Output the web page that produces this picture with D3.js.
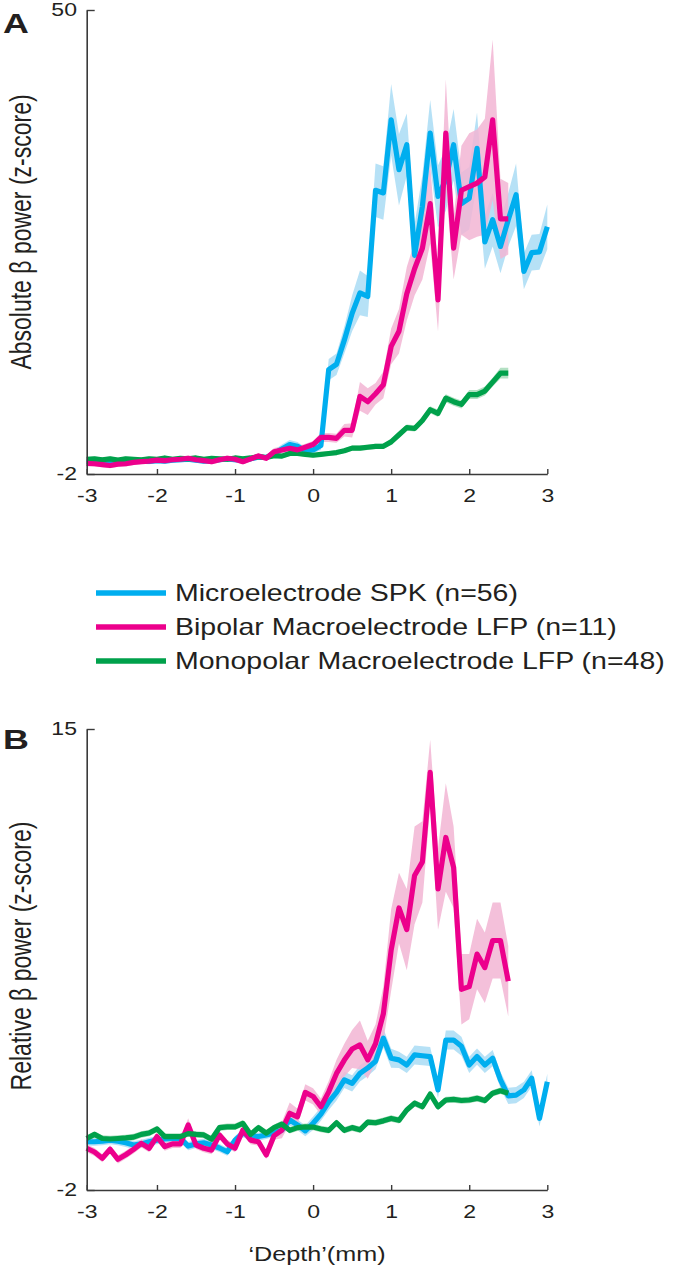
<!DOCTYPE html>
<html><head><meta charset="utf-8">
<script src="https://cdn.jsdelivr.net/npm/d3@7"></script>
<style>
body{margin:0;background:#fff}
text{font-family:Arial,"Liberation Sans",Helvetica,sans-serif;fill:#231f20}
</style>
</head><body>
<svg id="chart" width="679" height="1271"></svg>
<script>
// ---------- data ----------
const depthFull = [-2.9,-2.8,-2.7,-2.6,-2.5,-2.4,-2.3,-2.2,-2.1,-2.0,-1.9,-1.8,-1.7,-1.6,-1.5,-1.4,-1.3,-1.2,-1.1,-1.0,-0.9,-0.8,-0.7,-0.6,-0.5,-0.4,-0.3,-0.2,-0.1,0.0,
  0.1,0.2,0.3,0.4,0.5,0.6,0.7,0.8,0.9,1.0,1.1,1.2,1.3,1.4,1.5,1.6,1.7,1.8,1.9,2.0,2.1,2.2,2.3,2.4,2.5,2.6,2.7,2.8,2.9,3.0];
const depthShort = [-2.9,-2.8,-2.7,-2.6,-2.5,-2.4,-2.3,-2.2,-2.1,-2.0,-1.9,-1.8,-1.7,-1.6,-1.5,-1.4,-1.3,-1.2,-1.1,-1.0,-0.9,-0.8,-0.7,-0.6,-0.5,-0.4,-0.3,-0.2,-0.1,0.0,
  0.1,0.2,0.3,0.4,0.5,0.6,0.7,0.8,0.9,1.0,1.1,1.2,1.3,1.4,1.5,1.6,1.7,1.8,1.9,2.0,2.1,2.2,2.3,2.4,2.5];

// Panel A: absolute beta power
const spkAbs = [-0.6,-0.65,-0.7,-0.8,-0.75,-0.7,-0.6,-0.55,-0.6,-0.5,-0.55,-0.45,-0.4,-0.35,-0.45,-0.55,-0.5,-0.4,-0.3,-0.4,-0.45,-0.3,-0.1,-0.15,0.3,0.8,1.3,1.1,0.6,0.7,
  1.2,9.7,10.3,13.0,16.0,18.3,17.9,29.8,29.5,37.7,32.1,34.9,22.5,28.0,36.2,29.1,31.0,34.9,28.3,28.9,34.5,24.0,26.5,23.5,26.5,29.3,20.7,22.8,22.9,25.7];
const spkAbsErr = [0.3,0.3,0.3,0.3,0.3,0.3,0.3,0.3,0.3,0.3,0.3,0.3,0.3,0.3,0.3,0.3,0.3,0.3,0.3,0.3,0.3,0.3,0.3,0.3,0.4,0.5,0.5,0.5,0.4,0.4,
  0.5,1.2,1.2,1.5,2.0,2.5,2.3,3.0,3.0,4.0,4.0,3.5,3.5,3.5,3.7,3.5,3.5,4.0,3.5,3.5,4.0,3.0,3.0,3.0,3.0,3.5,2.0,2.0,2.0,2.5];
const bipAbs = [-0.8,-0.85,-0.95,-1.05,-0.9,-0.85,-0.7,-0.62,-0.55,-0.45,-0.5,-0.4,-0.35,-0.24,-0.4,-0.5,-0.62,-0.4,-0.24,-0.35,-0.62,-0.3,0.02,-0.24,0.5,0.69,0.88,0.7,1.0,1.3,
  2.1,2.1,2.0,2.9,2.9,6.7,6.1,7.0,8.0,12.3,14.0,18.2,21.0,23.3,28.3,17.5,36.2,23.3,29.8,30.2,30.6,31.3,37.7,26.6,26.6];
const bipAbsErr = [0.3,0.3,0.3,0.3,0.3,0.3,0.3,0.3,0.3,0.3,0.3,0.3,0.3,0.3,0.3,0.3,0.3,0.3,0.3,0.3,0.3,0.3,0.3,0.3,0.4,0.4,0.4,0.4,0.4,0.4,
  0.5,0.5,0.5,0.7,0.8,1.6,1.5,1.2,1.5,2.0,2.5,3.0,3.0,3.5,4.5,3.5,6.0,3.5,5.0,6.0,6.0,6.5,9.0,4.5,4.0];
const monoAbs = [-0.35,-0.3,-0.4,-0.3,-0.45,-0.3,-0.35,-0.4,-0.3,-0.35,-0.2,-0.35,-0.25,-0.3,-0.2,-0.35,-0.25,-0.3,-0.35,-0.2,-0.3,-0.2,-0.05,-0.15,0.05,0.0,0.3,0.3,0.2,0.1,
  0.2,0.3,0.4,0.6,0.9,0.9,1.0,1.1,1.1,1.6,2.4,3.2,3.1,4.0,5.2,4.8,6.5,6.1,5.8,6.9,6.9,7.3,8.3,9.3,9.3];
const monoAbsErr = [0.25,0.25,0.25,0.25,0.25,0.25,0.25,0.25,0.25,0.25,0.25,0.25,0.25,0.25,0.25,0.25,0.25,0.25,0.25,0.25,0.25,0.25,0.25,0.25,0.25,0.25,0.25,0.25,0.25,0.25,
  0.25,0.25,0.25,0.25,0.3,0.3,0.3,0.3,0.3,0.3,0.35,0.35,0.35,0.4,0.4,0.4,0.45,0.45,0.45,0.5,0.5,0.5,0.5,0.6,0.6];

// Panel B: relative beta power
const spkRel = [-0.22,-0.22,-0.2,-0.16,-0.2,-0.26,-0.34,-0.3,-0.22,-0.16,-0.12,-0.1,-0.09,-0.38,-0.3,-0.26,-0.34,-0.45,-0.59,-0.16,0.09,0.0,-0.03,0.03,0.1,0.21,0.58,0.4,0.18,0.46,
  0.8,1.25,1.6,2.06,1.93,2.3,2.5,2.75,3.6,2.86,2.8,2.61,2.98,2.95,2.92,1.69,3.53,3.53,3.3,2.61,2.92,2.61,2.86,2.06,1.47,1.5,1.69,2.12,0.64,1.99];
const spkRelErr = [0.15,0.15,0.15,0.15,0.15,0.15,0.15,0.15,0.15,0.15,0.15,0.15,0.15,0.15,0.15,0.15,0.15,0.15,0.15,0.15,0.15,0.15,0.15,0.15,0.15,0.2,0.2,0.2,0.2,0.25,
  0.25,0.3,0.3,0.3,0.3,0.3,0.3,0.3,0.35,0.35,0.3,0.3,0.35,0.35,0.35,0.3,0.35,0.35,0.35,0.3,0.3,0.3,0.3,0.3,0.3,0.3,0.3,0.3,0.3,0.3];
const bipRel = [-0.46,-0.6,-0.83,-0.5,-0.87,-0.7,-0.5,-0.28,-0.46,-0.03,-0.4,-0.3,-0.3,0.4,-0.34,-0.46,-0.53,0.03,-0.3,-0.46,0.21,-0.16,-0.22,-0.71,0.0,0.21,0.83,0.7,1.6,1.45,
  1.07,1.62,2.3,2.79,3.2,3.35,2.8,3.4,4.5,6.85,8.4,7.6,9.6,10.1,13.4,9.1,11.0,9.9,5.4,5.5,6.7,6.2,7.2,7.2,5.7];
const bipRelErr = [0.15,0.15,0.15,0.15,0.15,0.15,0.15,0.15,0.15,0.15,0.15,0.15,0.15,0.25,0.15,0.15,0.15,0.15,0.15,0.15,0.15,0.15,0.15,0.15,0.15,0.3,0.4,0.3,0.3,0.3,
  0.3,0.4,0.5,0.6,0.7,0.9,0.7,0.7,1.0,1.5,1.3,1.5,1.8,1.5,1.2,1.5,2.0,1.5,1.3,1.2,1.3,1.3,1.4,1.4,1.3];
const monoRel = [-0.1,0.05,-0.1,-0.12,-0.1,-0.08,-0.05,0.05,0.1,0.25,-0.03,-0.03,-0.03,0.08,0.05,0.03,-0.13,0.3,0.33,0.33,0.46,0.05,0.3,0.1,0.3,0.43,0.2,0.3,0.33,0.32,
  0.25,0.2,0.48,0.2,0.3,0.22,0.5,0.48,0.55,0.64,0.57,0.95,1.2,1.07,1.54,1.07,1.32,1.34,1.3,1.32,1.38,1.3,1.57,1.66,1.57];
const monoRelErr = [0.12,0.12,0.12,0.12,0.12,0.12,0.12,0.12,0.12,0.12,0.12,0.12,0.12,0.12,0.12,0.12,0.12,0.12,0.12,0.12,0.12,0.12,0.12,0.12,0.12,0.12,0.12,0.12,0.12,0.12,
  0.12,0.12,0.12,0.12,0.12,0.12,0.12,0.12,0.12,0.12,0.12,0.12,0.12,0.12,0.12,0.12,0.12,0.12,0.12,0.12,0.12,0.12,0.12,0.12,0.12];

const seriesNames = ["Microelectrode SPK (n=56)","Bipolar Macroelectrode LFP (n=11)","Monopolar Macroelectrode LFP (n=48)"];
const xTickValues = [-2.9,-2,-1,0,1,2,3];
const xTickLabels = ["-3","-2","-1","0","1","2","3"];
const yTicksA = [-2,50];
const yTicksB = [-2,15];

// ---------- styling ----------
const lineColors = ["#00aeef","#ec008c","#00a14b"];
const bandColors = ["#a9dcf5","#f2b5d4","#a6dbb8"];
const SX = 1.28; // horizontal text stretch of the original figure

const svg = d3.select("#chart");
const x = d3.scaleLinear().domain([-2.9,3]).range([86.7,547.3]);

function drawPanel(cfg){
  const y = d3.scaleLinear().domain(cfg.yDomain).range(cfg.yRange);
  const g = svg.append("g");
  const series = [
    {depth:depthFull, v:cfg.spk, e:cfg.spkErr, c:0},
    {depth:depthShort, v:cfg.bip, e:cfg.bipErr, c:1},
    {depth:depthShort, v:cfg.mono, e:cfg.monoErr, c:2}
  ];
  const order = cfg.order.map(i=>series[i]);
  order.forEach(s=>{
    const pts = s.depth.map((d,i)=>({d, v:s.v[i], e:s.e[i]}));
    g.append("path").datum(pts)
      .attr("fill", bandColors[s.c]).attr("fill-opacity",0.85)
      .attr("d", d3.area().x(p=>x(p.d)).y0(p=>y(p.v-p.e)).y1(p=>y(p.v+p.e)));
  });
  order.forEach(s=>{
    const pts = s.depth.map((d,i)=>({d, v:s.v[i]}));
    g.append("path").datum(pts)
      .attr("fill","none").attr("stroke", lineColors[s.c]).attr("stroke-width",5.2)
      .attr("stroke-linejoin","round").attr("stroke-linecap","butt")
      .attr("d", d3.line().x(p=>x(p.d)).y(p=>y(p.v)));
  });
  // axes
  const yAxis = g.append("g").attr("transform",`translate(${x.range()[0]},0)`)
    .call(d3.axisLeft(y).tickValues(cfg.yTicks).tickSizeInner(-8).tickSizeOuter(0).tickPadding(9).tickFormat(d=>String(d)));
  const xAxis = g.append("g").attr("transform",`translate(0,${cfg.yRange[0]})`)
    .call(d3.axisBottom(x).tickValues(xTickValues).tickSizeInner(-5).tickSizeOuter(0).tickPadding(15)
      .tickFormat((d,i)=>xTickLabels[i]));
  [yAxis,xAxis].forEach(a=>{
    a.select(".domain").attr("stroke","#3a3a3a").attr("stroke-width",1.6);
    a.selectAll(".tick line").attr("stroke","#3a3a3a").attr("stroke-width",1.4);
    a.selectAll(".tick text").attr("font-size",18).attr("fill","#231f20")
      .attr("font-family","Arial, 'Liberation Sans', sans-serif");
  });
  yAxis.selectAll(".tick text").attr("x",-7.6).attr("transform",`scale(${SX},1)`);
  xAxis.selectAll(".tick text").attr("transform",`scale(${SX},1)`);
  // y label
  g.append("text").attr("transform",`translate(31,${cfg.yLabelY}) scale(${SX},1) rotate(-90)`)
    .attr("text-anchor","middle").attr("font-size",23).text(cfg.yLabel);
  // panel letter
  g.append("text").attr("transform",`translate(3,${cfg.letterY}) scale(${SX},1)`)
    .attr("font-size",28).attr("font-weight","bold").attr("fill","#231f20").text(cfg.letter);
}

drawPanel({yDomain:[-2,50], yRange:[474,10], yTicks:yTicksA,
  spk:spkAbs, spkErr:spkAbsErr, bip:bipAbs, bipErr:bipAbsErr, mono:monoAbs, monoErr:monoAbsErr,
  order:[0,2,1], yLabel:"Absolute \u03B2 power (z-score)", yLabelY:232, letter:"A", letterY:33});

drawPanel({yDomain:[-2,15], yRange:[1190,729], yTicks:yTicksB,
  spk:spkRel, spkErr:spkRelErr, bip:bipRel, bipErr:bipRelErr, mono:monoRel, monoErr:monoRelErr,
  order:[0,1,2], yLabel:"Relative \u03B2 power (z-score)", yLabelY:956, letter:"B", letterY:749});

// x label for panel B
svg.append("text").attr("transform",`translate(317,1261) scale(1.2,1)`)
  .attr("text-anchor","middle").attr("font-size",21).text("\u2018Depth\u2019(mm)");

// legend
const legY = [593,627,661];
seriesNames.forEach((name,i)=>{
  svg.append("line").attr("x1",96).attr("x2",166).attr("y1",legY[i]).attr("y2",legY[i])
    .attr("stroke",lineColors[i]).attr("stroke-width",5.5);
  svg.append("text").attr("transform",`translate(175,${legY[i]+8}) scale(1.24,1)`)
    .attr("font-size",23).text(name);
});
</script>
</body></html>
